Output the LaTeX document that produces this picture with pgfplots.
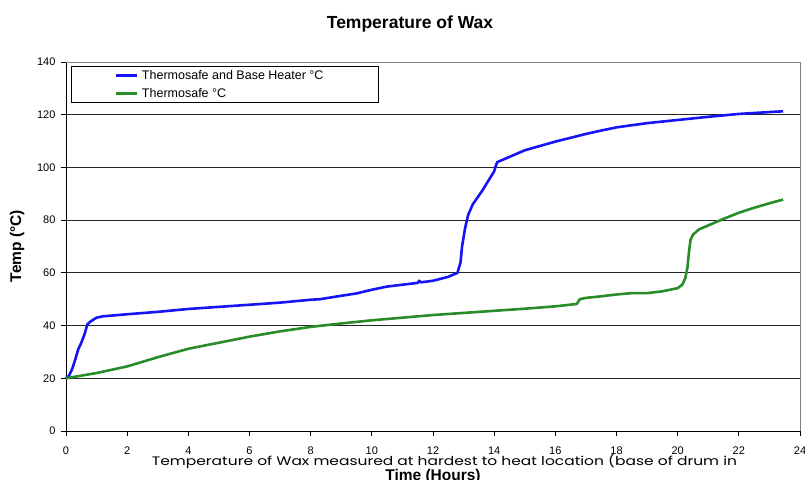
\documentclass[border=0pt]{standalone}
\usepackage{pgfplots}
\pgfplotsset{compat=1.18}
\usepackage{fontspec}
\setmainfont{Liberation Sans}
\newfontfamily\geo{Poppins}
\definecolor{myblue}{RGB}{20,20,245}
\definecolor{mygreen}{RGB}{40,140,40}

\pgfplotstableread{
t T
0 20
0.1 21
0.2 23.5
0.3 27
0.4 31
0.5 33.5
0.6 36.5
0.7 40.5
0.8 41.5
0.9 42.3
1.0 43
1.2 43.5
2 44.3
3 45.2
4 46.3
5 47.1
6 47.9
7 48.7
8 49.8
8.3 50
9 51.3
9.5 52.2
10 53.6
10.5 54.8
11 55.5
11.5 56.2
11.55 57
11.6 56.4
12 57
12.5 58.5
12.8 60
12.9 64
12.95 70
13.05 77
13.15 82
13.3 86
13.6 91
14.0 98.5
14.05 100.5
14.1 102
14.3 103
15 106.5
16 109.8
17 112.7
17.5 114
18 115.2
19 116.8
20 118
21 119.2
22 120.3
23 121
23.45 121.3
}\blue

\pgfplotstableread{
t T
0 20
1 22
2 24.5
3 28
4 31.2
5 33.5
6 35.8
7 37.8
8 39.5
9 40.8
10 42
11 43
12 44
13 44.8
14 45.6
15 46.4
16 47.3
16.7 48.2
16.8 50
17 50.5
17.5 51.1
18 51.8
18.5 52.3
19 52.3
19.5 53
20 54.2
20.15 55.5
20.25 58
20.32 62
20.37 68
20.42 72.5
20.5 74.5
20.7 76.5
21 78
21.5 80.5
22 82.8
22.5 84.7
23 86.4
23.45 87.8
}\green

\begin{document}
\begin{tikzpicture}
\useasboundingbox (0pt,0pt) rectangle (805pt,479pt);
\begin{axis}[
  scale only axis, width=734pt, height=369pt,
  at={(66pt,48pt)}, anchor=origin,
  xmin=0, xmax=24, ymin=0, ymax=140,
  xtick={0,2,...,24}, ytick={0,20,...,140},
  axis x line*=bottom, axis y line*=left,
  axis line style={black, line width=0.8pt, -},
  ymajorgrids, grid style={black!85, line width=0.8pt},
  tick style={black, line width=0.8pt},
  tick align=outside, major tick length=5pt,
  ticklabel style={font=\fontsize{11}{13}\selectfont},
  /pgf/number format/assume math mode=true,
  xticklabel style={yshift=-7pt},
  yticklabel style={xshift=-2pt},
  legend style={at={(0.0068,0.989)}, anchor=north west, draw=black, line width=0.8pt,
    font=\fontsize{12.5}{14}\selectfont, inner xsep=43pt, inner ysep=2pt,
    row sep=3pt, column sep=2pt, cells={anchor=west}},
  legend cell align=left,
  legend image code/.code={\draw[#1] (0pt,0pt) -- (21pt,0pt);},
  clip=false,
]
\addplot[myblue, line width=2.6pt, line join=round] table[x=t,y=T]{\blue};
\addlegendentry{Thermosafe and Base Heater °C\hspace*{10pt}}
\addplot[mygreen, line width=2.6pt, line join=round] table[x=t,y=T]{\green};
\addlegendentry{Thermosafe °C}
\draw[gray, line width=0.8pt] (rel axis cs:0,1) -- (rel axis cs:1,1) -- (rel axis cs:1,0);
\end{axis}
\node[font=\fontsize{17.5}{20}\bfseries, anchor=base] at (410pt,450pt) {Temperature of Wax};
\node[font=\fontsize{15.5}{18}\bfseries, rotate=90, anchor=center] at (17pt,233pt) {Temp (°C)};
\node[anchor=base] at (444.5pt,13.7pt) {\resizebox{585pt}{11.5pt}{\geo Temperature of Wax measured at hardest to heat location (base of drum in}};
\node[font=\fontsize{15.5}{18}\bfseries, anchor=base] at (433pt,-1pt) {Time (Hours)};
\end{tikzpicture}
\end{document}
